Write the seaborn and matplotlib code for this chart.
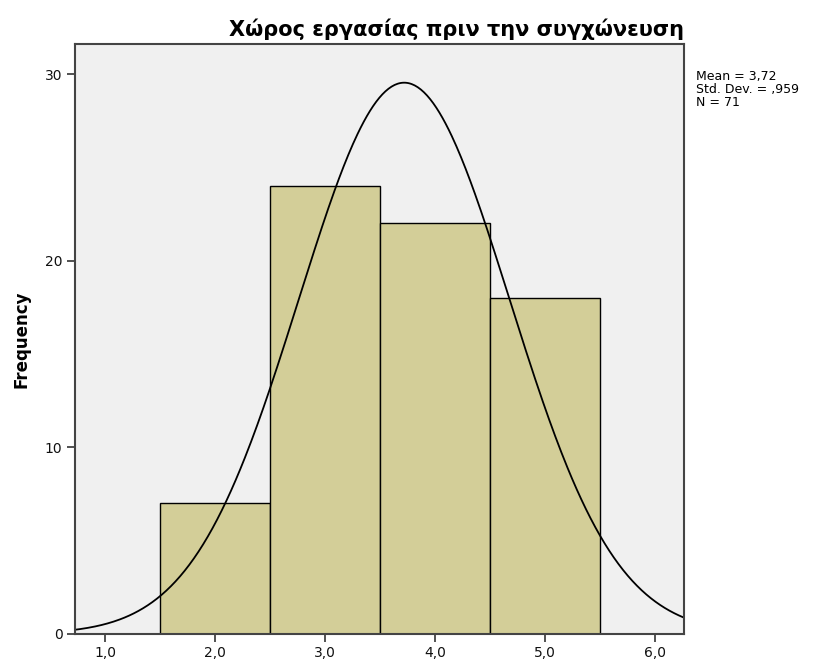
import numpy as np
import matplotlib
matplotlib.use("Agg")
import matplotlib.pyplot as plt
import seaborn as sns

# Frequencies of the workplace rating before the merger
categories = [2, 3, 4, 5]
counts = [7, 24, 22, 18]
bin_edges = [1.5, 2.5, 3.5, 4.5, 5.5]
mean_val = 3.72
sd_val = 0.959
n_val = 71
x_ticks = [1, 2, 3, 4, 5, 6]
y_ticks = [0, 10, 20, 30]

sns.set_theme(style="white")
plt.rcParams["font.family"] = ["DejaVu Sans"]

fig = plt.figure(figsize=(8.23, 6.62), dpi=100)
ax = fig.add_axes([0.0911, 0.0423, 0.740, 0.891])
ax.set_facecolor("#F0F0F0")

sns.histplot(x=categories, weights=counts, bins=bin_edges, ax=ax,
             color="#D3CE98", edgecolor="black", linewidth=1.0, alpha=1.0)

# Fitted normal curve, scaled to counts (bin width 1)
xs = np.linspace(0.7, 6.3, 400)
ys = n_val * np.exp(-0.5 * ((xs - mean_val) / sd_val) ** 2) / (sd_val * np.sqrt(2 * np.pi))
ax.plot(xs, ys, color="black", linewidth=1.3)

ax.set_xlim(0.727, 6.264)
ax.set_ylim(0, 31.6)
ax.set_xticks(x_ticks)
ax.set_xticklabels([f"{v:.1f}".replace(".", ",") for v in x_ticks], fontsize=10, color="#111111")
ax.set_yticks(y_ticks)
ax.set_yticklabels([str(v) for v in y_ticks], fontsize=10, color="#111111")
ax.tick_params(axis="both", direction="out", length=6, width=1.2, color="#333333",
               bottom=True, left=True, pad=3)

for sp in ax.spines.values():
    sp.set_visible(True)
    sp.set_color("#444444")
    sp.set_linewidth(1.5)

ax.set_xlabel("")
ax.set_ylabel("Frequency", fontsize=12, fontweight="bold", labelpad=10, color="black")

ax.set_title("Χώρος εργασίας πριν την συγχώνευση", fontsize=15, fontweight="bold",
             loc="right", pad=6, color="black")

fig.text(0.846, 0.895, f"Mean = 3,72\nStd. Dev. = ,959\nN = {n_val}",
         fontsize=9, va="top", ha="left", linespacing=1.0, color="black")

fig.savefig("out.png", dpi=100)
